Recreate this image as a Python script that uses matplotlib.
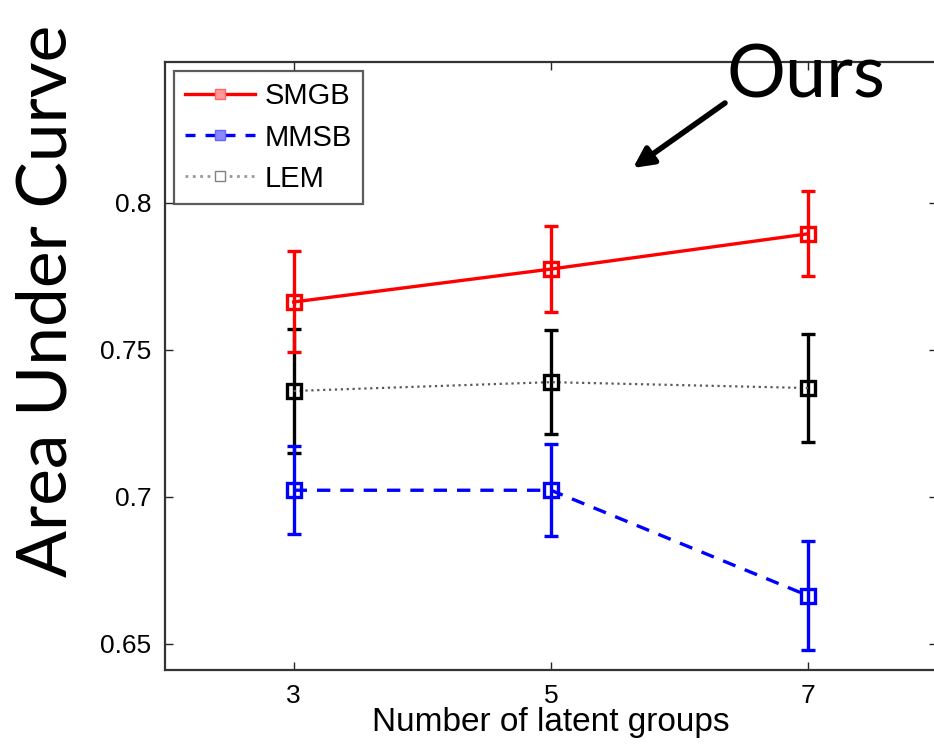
import matplotlib
matplotlib.use("Agg")
import matplotlib.pyplot as plt
from matplotlib.lines import Line2D

groups = [3, 5, 7]
smgb = [0.7663, 0.7775, 0.7895]
smgb_err = [0.0172, 0.0147, 0.0145]
mmsb = [0.7022, 0.7022, 0.6663]
mmsb_err = [0.0149, 0.0157, 0.0186]
lem = [0.7360, 0.7390, 0.7370]
lem_err = [0.0212, 0.0178, 0.0184]

plt.rcParams['font.family'] = ['Liberation Sans', 'DejaVu Sans']

fig = plt.figure(figsize=(9.34, 7.53), dpi=100)
ax = fig.add_axes([0.1767, 0.1102, 0.8263, 0.8075])

# LEM: thin dotted line, thick black error bars
ax.errorbar(groups, lem, yerr=lem_err, fmt='none', ecolor='black',
            elinewidth=2.4, capsize=5, capthick=2.4, zorder=2)
ax.plot(groups, lem, linestyle=':', color='0.35', linewidth=1.6,
        marker='s', ms=10, mfc='none', mec='black', mew=2.4, zorder=3)

ax.errorbar(groups, mmsb, yerr=mmsb_err, fmt='none', ecolor='#0000ff',
            elinewidth=2.4, capsize=5, capthick=2.4, zorder=2)
ax.plot(groups, mmsb, linestyle='--', dashes=(4, 3), color='#0000ff',
        linewidth=2.4, marker='s', ms=10, mfc='none', mew=2.4, zorder=3)

ax.errorbar(groups, smgb, yerr=smgb_err, fmt='none', ecolor='#ff0000',
            elinewidth=2.4, capsize=5, capthick=2.4, zorder=2)
ax.plot(groups, smgb, linestyle='-', color='#ff0000', linewidth=2.4,
        marker='s', ms=10, mfc='none', mew=2.4, zorder=3)

ax.set_xlim(2, 8)
ax.set_ylim(0.641, 0.848)
ax.set_xticks(groups)
ax.set_yticks([0.65, 0.7, 0.75, 0.8])
ax.set_yticklabels(['0.65', '0.7', '0.75', '0.8'])
ax.tick_params(direction='in', top=True, right=True, length=6, width=1,
               labelsize=19, pad=10, colors='0.15', labelcolor='black')
for s in ax.spines.values():
    s.set_linewidth(1.6)
    s.set_color('0.2')

ax.set_xlabel('Number of latent groups', fontsize=24, labelpad=-1)

# legend with light markers like the original
h1 = Line2D([], [], color='#ff0000', lw=2.4, marker='s', ms=7, mfc='#ff9999', mec='#ff6666')
h2 = Line2D([], [], color='#0000ff', lw=2.4, ls='--', dashes=(3, 3), marker='s', ms=7,
            mfc='#8888ff', mec='#6666ff')
h3 = Line2D([], [], color='0.6', lw=2.0, ls=':', marker='s', ms=7, mfc='white', mec='0.5')
leg = ax.legend([h1, h2, h3], ['SMGB', 'MMSB', 'LEM'], loc='upper left',
                fontsize=21, frameon=True, fancybox=False, handlelength=2.4,
                borderaxespad=0.3, labelspacing=0.45, handletextpad=0.3,
                borderpad=0.4)
leg.get_frame().set_edgecolor('0.2')
leg.get_frame().set_linewidth(1.6)

fig.text(0.050, 0.60, 'Area Under Curve', rotation=90, fontsize=50,
         family=['Lato', 'DejaVu Sans'], ha='center', va='center')
fig.text(0.778, 0.898, 'Ours', fontsize=53, family=['Lato', 'DejaVu Sans'],
         ha='left', va='center')
ax.annotate('', xy=(633 / 934, 1 - 168 / 753), xytext=(725 / 934, 1 - 103 / 753),
            xycoords='figure fraction', textcoords='figure fraction',
            arrowprops=dict(arrowstyle='-|>', color='black', lw=4,
                            mutation_scale=30, shrinkA=0, shrinkB=0))

fig.savefig('out.png', dpi=100)
